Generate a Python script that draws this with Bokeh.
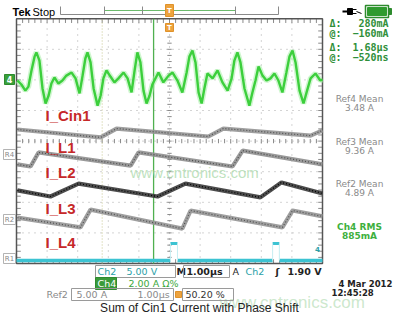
import numpy as np
from bokeh.plotting import figure
from bokeh.models import Range1d
from bokeh.core.properties import value
from bokeh.embed import file_html
from bokeh.resources import INLINE

# ---------------- waveform data, in scope screen units ----------------
# time  : µs from the left edge of the graticule (1.00 µs/div, 10 div)
# level : divisions above the bottom edge of the graticule (8 div)
cin1_time = [0.03, 0.16, 0.29, 0.39, 0.49, 0.59, 0.65, 0.75, 0.85, 0.95,
             1.05, 1.14, 1.24, 1.37, 1.50, 1.63, 1.80, 1.93, 2.06, 2.16,
             2.25, 2.32, 2.42, 2.52, 2.65, 2.75, 2.84, 2.94, 3.07, 3.20,
             3.33, 3.50, 3.63, 3.76, 3.86, 3.95, 4.05, 4.15, 4.25, 4.35,
             4.44, 4.64, 4.80, 4.97, 5.10, 5.26, 5.42, 5.56, 5.65, 5.75,
             5.85, 5.95, 6.05, 6.14, 6.24, 6.41, 6.57, 6.73, 6.90, 7.03,
             7.12, 7.22, 7.32, 7.45, 7.61, 7.71, 7.81, 7.91, 8.04, 8.17,
             8.30, 8.43, 8.56, 8.69, 8.82, 8.92, 9.02, 9.12, 9.25, 9.38,
             9.48, 9.61, 9.77, 9.93, 10.0]
cin1_level = [5.98, 5.85, 5.65, 5.78, 6.31, 6.76, 6.90, 6.63, 5.72, 5.23,
              5.49, 5.88, 6.08, 5.88, 5.98, 6.14, 6.24, 6.05, 5.56, 6.14,
              6.70, 6.90, 6.57, 5.72, 5.16, 5.49, 6.05, 6.31, 6.11, 5.92,
              6.05, 6.24, 6.05, 5.59, 6.31, 6.90, 6.57, 5.65, 5.23, 5.49,
              5.85, 6.24, 5.92, 6.14, 6.24, 5.98, 5.59, 6.24, 6.76, 6.96,
              6.57, 5.59, 5.23, 5.72, 6.21, 6.05, 6.31, 5.92, 5.65, 6.05,
              6.63, 6.90, 6.57, 5.72, 5.16, 5.59, 5.98, 6.44, 6.14, 5.98,
              6.05, 6.21, 5.98, 5.59, 6.24, 6.76, 6.96, 6.57, 5.65, 5.23,
              5.59, 6.05, 6.21, 5.98, 6.01]

il1_time = [0.03, 2.75, 3.27, 6.27, 6.76, 9.61, 10.0]
il1_level = [4.38, 4.12, 4.41, 4.15, 4.41, 4.18, 4.35]

il2_time = [0.03, 0.46, 0.72, 3.73, 3.99, 7.06, 7.39, 10.0]
il2_level = [3.24, 3.17, 3.63, 3.20, 3.63, 3.17, 3.69, 3.24]

il3_time = [0.03, 1.11, 2.03, 4.61, 5.52, 7.97, 8.66, 10.0]
il3_level = [2.39, 2.19, 2.61, 2.19, 2.61, 2.16, 2.65, 2.29]

il4_time = [0.03, 2.09, 2.42, 5.42, 5.69, 8.69, 9.02, 10.0]
il4_level = [1.50, 1.18, 1.76, 1.14, 1.73, 1.18, 1.73, 1.54]

ch2_low = 0.10
ch2_high = 0.65
ch2_pulse_start = [5.03, 8.37]
ch2_pulse_end = [5.26, 8.59]

cursor_active = 4.48
cursor_other = 2.80

trace_names = ["I_Cin1", "I_L1", "I_L2", "I_L3", "I_L4"]
cursor_keys = ["Δ:", "@:", "Δ:", "@:"]
cursor_vals = ["280mA", "\u2212160mA", "1.68µs", "\u2212520ns"]
ref_names = ["Ref4 Mean", "Ref3 Mean", "Ref2 Mean"]
ref_vals = ["3.48 A", "9.36 A", "4.89 A"]
meas_name = "Ch4 RMS"
meas_val = "885mA"
caption = "Sum of Cin1 Current with Phase Shift"
watermark = "www.cntronics.com"

# ---------------- page / screen geometry ----------------
W, H = 400, 320
GX0, GY0, DIV = 16.0, 263.0, 30.6   # graticule origin (picture px) and px per division

def X(px):
    return (px - GX0) / DIV

def Y(py):
    return (GY0 - py) / DIV

p = figure(width=W, height=H, output_backend="svg", toolbar_location=None,
           x_range=Range1d(X(0), X(W)), y_range=Range1d(Y(H), Y(0)),
           x_axis_location=None, y_axis_location=None, min_border=0,
           outline_line_color=None, background_fill_color="white",
           border_fill_color="white")
p.xgrid.visible = False
p.ygrid.visible = False


def txt(px, py, s, size=9, color="#000000", align="left", font="DejaVu Sans",
        style="normal", alpha=1.0, baseline="middle"):
    p.text(x=[X(px)], y=[Y(py)], text=[s], text_font=value(font),
           text_font_size=f"{size}px", text_color=color, text_align=align,
           text_baseline=baseline, text_font_style=style, text_alpha=alpha)


def box(x0, y0, x1, y1, line="#9a9a9a", fill=None, lw=1.0):
    p.quad(left=[X(x0)], right=[X(x1)], top=[Y(y0)], bottom=[Y(y1)],
           fill_color=fill, line_color=line, line_width=lw)


# ---------------- graticule ----------------
gv = np.arange(1, 10)
gh = np.arange(1, 8)
p.segment(x0=gv, y0=0, x1=gv, y1=8, line_color="#a8a8a8", line_width=1, line_dash="1 5")
p.segment(x0=0, y0=gh, x1=10, y1=gh, line_color="#a8a8a8", line_width=1, line_dash="1 5")
tx = np.arange(0.2, 10, 0.2)
ty = np.arange(0.2, 8, 0.2)
tk = 0.07
p.segment(x0=tx, y0=4 - tk, x1=tx, y1=4 + tk, line_color="#8a8a8a", line_width=1)
p.segment(x0=5 - tk, y0=ty, x1=5 + tk, y1=ty, line_color="#8a8a8a", line_width=1)
p.segment(x0=tx, y0=8, x1=tx, y1=8 - 2 * tk, line_color="#8a8a8a", line_width=1)
p.segment(x0=tx, y0=0, x1=tx, y1=2 * tk, line_color="#8a8a8a", line_width=1)
p.segment(x0=0, y0=ty, x1=2 * tk, y1=ty, line_color="#8a8a8a", line_width=1)
p.segment(x0=10, y0=ty, x1=10 - 2 * tk, y1=ty, line_color="#8a8a8a", line_width=1)
p.quad(left=[0], right=[10], bottom=[0], top=[8], fill_color=None,
       line_color="#555555", line_width=1.5)

# cursors
p.segment(x0=[cursor_other], y0=[0], x1=[cursor_other], y1=[8],
          line_color="#c8c890", line_width=1, line_dash="1 2")
p.segment(x0=[cursor_active], y0=[0], x1=[cursor_active], y1=[8],
          line_color="#4fb04f", line_width=1.3)

# ---------------- traces ----------------
for t, v, col, dark in [(il1_time, il1_level, "#959595", "#505050"),
                        (il2_time, il2_level, "#8f8f8f", "#4a4a4a"),
                        (il3_time, il3_level, "#3a3a3a", "#000000"),
                        (il4_time, il4_level, "#959595", "#505050")]:
    p.line(t, v, line_color=col, line_width=4.2, line_alpha=0.9)
    p.line(t, v, line_color=dark, line_width=1.2, line_dash="1 2")

p.line(cin1_time, cin1_level, line_color="#a6eea6", line_width=5.5, line_alpha=0.55)
p.line(cin1_time, cin1_level, line_color="#3ccf3c", line_width=2.4)

base_x0 = [0] + ch2_pulse_end
base_x1 = ch2_pulse_start + [10]
p.segment(x0=base_x0, y0=ch2_low, x1=base_x1, y1=ch2_low, line_color="#3cc3d2", line_width=3.5)
p.segment(x0=ch2_pulse_start, y0=ch2_high, x1=ch2_pulse_end, y1=ch2_high,
          line_color="#3cc3d2", line_width=3)
p.segment(x0=ch2_pulse_start + ch2_pulse_end, y0=ch2_low,
          x1=ch2_pulse_start + ch2_pulse_end, y1=ch2_high,
          line_color="#c6eef2", line_width=1)

# watermark
txt(130, 172, watermark, size=15, color="#a9d8a9", font="Liberation Sans", alpha=0.75)
txt(219, 302, watermark, size=17, color="#bfe2bf", font="Liberation Sans", alpha=0.8)

# trace labels
for name, ly in zip(trace_names, [115, 147, 172, 208, 242]):
    txt(45, ly, name, size=15, color="#c62828", font="Liberation Sans", style="bold")

# ---------------- top bar ----------------
txt(12, 11, "Tek", size=11, font="Liberation Sans", style="bold")
txt(32, 11, "Stop", size=11, font="Liberation Sans")
p.segment(x0=[X(60)], y0=[Y(14)], x1=[X(278)], y1=[Y(14)], line_color="#8a8a8a", line_width=1.2)
p.segment(x0=[X(104)], y0=[Y(10)], x1=[X(235)], y1=[Y(10)], line_color="#6dbb6d", line_width=1)
for tpx in [60, 104, 142, 235, 278]:
    p.segment(x0=[X(tpx)], y0=[Y(6)], x1=[X(tpx)], y1=[Y(14)], line_color="#8a8a8a", line_width=1)
box(165, 4, 173, 16, line="#e0922a", fill="#eda33e")
txt(169, 10, "T", size=7, color="white", align="center", style="bold")
box(165, 23, 173, 31, line="#e0922a", fill="#eda33e")
txt(169, 27, "T", size=7, color="white", align="center", style="bold")

# power icon + battery
p.segment(x0=[X(342)], y0=[Y(11)], x1=[X(347)], y1=[Y(11)], line_color="black", line_width=2)
box(347, 8, 352, 14, line="black", fill="black")
p.segment(x0=[X(352), X(352)], y0=[Y(9), Y(13)], x1=[X(356), X(356)], y1=[Y(9), Y(13)],
          line_color="black", line_width=1)
p.segment(x0=[X(356)], y0=[Y(11)], x1=[X(361)], y1=[Y(13)], line_color="black", line_width=1)
box(365, 5, 388, 17, line="#2e8b2e", fill="white", lw=1.5)
box(367, 7, 386, 15, line="#2f9a2f", fill="#2f9a2f")
box(388, 8, 391, 14, line="#2e8b2e", fill="#2e8b2e")

# ---------------- right readouts ----------------
for key, val, ry in zip(cursor_keys, cursor_vals, [23, 33, 47, 57]):
    txt(329, ry, key, size=10, color="#2f8f3a", font="DejaVu Sans Mono", style="bold")
    txt(388, ry, val, size=10, color="#2f8f3a", font="DejaVu Sans Mono", style="bold", align="right")
for name, val, ry in zip(ref_names, ref_vals, [98, 141, 183]):
    txt(359, ry, name, size=9, color="#8a8a8a", align="center")
    txt(359, ry + 9, val, size=9, color="#8a8a8a", align="center")
txt(359, 226, meas_name, size=9, color="#3db03d", align="center", style="bold")
txt(359, 235, meas_val, size=9, color="#3db03d", align="center", style="bold")

# left markers
box(4, 74, 14, 84, line="#2e8b2e", fill="#3aa03a")
txt(9, 79, "4", size=8, color="white", align="center", style="bold")
for lab, my in [("R4", 154), ("R2", 219), ("R1", 258)]:
    box(3, my - 5, 15, my + 5, line="#a0a0a0", fill="white", lw=0.8)
    txt(9, my, lab, size=7, color="#8a8a8a", align="center")
txt(317, 248, "4", size=7, color="#2aa0a8", align="center", style="bold")

# ---------------- bottom status rows ----------------
teal = "#2a9fa8"
box(95, 265, 175, 277)
txt(97, 271, "Ch2", size=9.5, color=teal)
txt(126, 271, "5.00 V", size=9.5, color=teal)
txt(176, 271, "M", size=9.5, color="#222222", style="bold")
box(183, 265, 229, 277)
txt(186, 271, "1.00µs", size=9.5, color="#222222", style="bold")
txt(232, 271, "A", size=9.5, color="#222222")
txt(245, 271, "Ch2", size=9.5, color=teal)
txt(275, 271, "ʃ", size=9.5, color="#222222", style="bold")
txt(321, 271, "1.90 V", size=9.5, color="#222222", style="bold", align="right")

box(95, 277, 116, 289, line="#2e8b2e", fill="#3a9a3a")
txt(97, 283, "Ch4", size=9.5, color="white")
txt(128, 283, "2.00 A Ω%", size=9.5, color="#3aa83a")

txt(46, 294, "Ref2", size=9.5, color="#8a8a8a")
box(71, 288, 173, 300)
txt(76, 294, "5.00 A", size=9.5, color="#8a8a8a")
txt(137, 294, "1.00µs", size=9.5, color="#8a8a8a")
box(175, 291, 181, 297, line="#e0922a", fill="#eda33e")
box(182, 288, 233, 300)
txt(185, 294, "50.20 %", size=9.5, color="#333333")

txt(338, 283, "4 Mar  2012", size=8.5, color="#222222", style="bold")
txt(331, 292, "12:45:28", size=8.5, color="#222222", style="bold")

txt(199, 307, caption, size=12, color="#222222", font="Liberation Sans", align="center")

open("out.html", "w").write(file_html(p, INLINE))
